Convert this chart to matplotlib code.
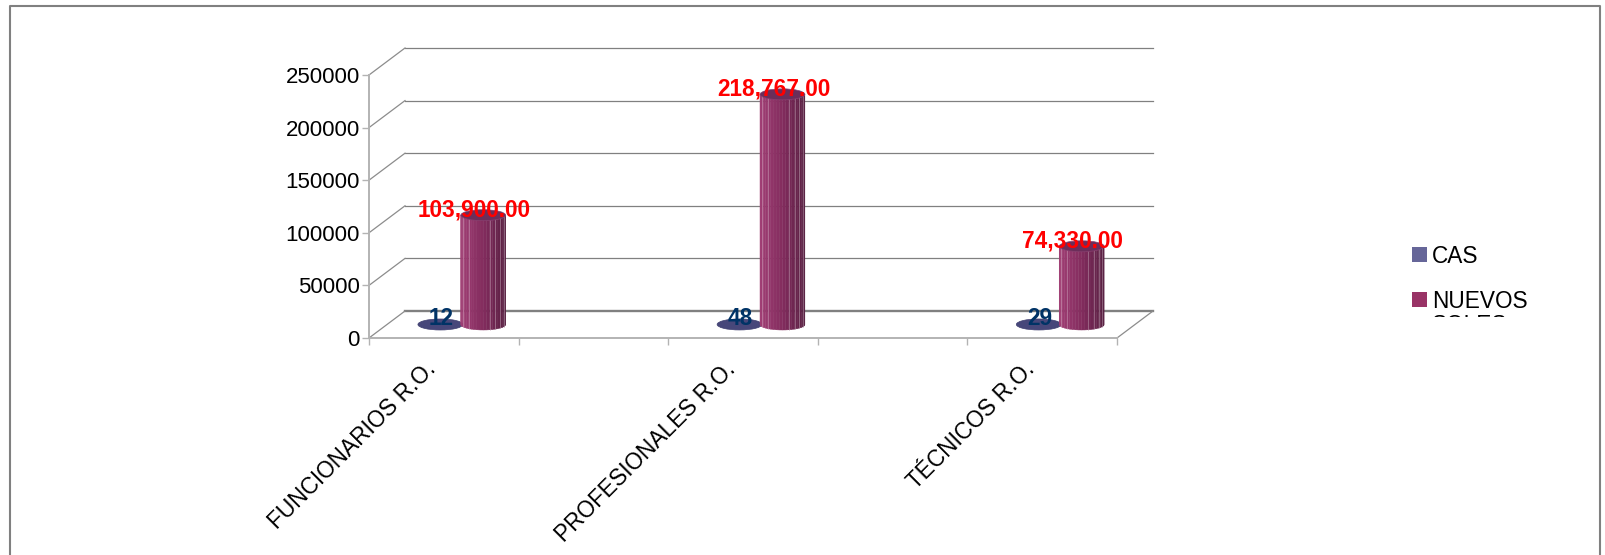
import numpy as np
import matplotlib.pyplot as plt
from matplotlib.lines import Line2D
from matplotlib.patches import Ellipse, Polygon, Rectangle
from matplotlib.transforms import Affine2D, Bbox, ScaledTranslation

plt.rcParams['font.family'] = ['Liberation Sans', 'DejaVu Sans']

# Data (blank categories sit between the named ones)
categories = ['FUNCIONARIOS R.O.', '', 'PROFESIONALES R.O.', '', 'TÉCNICOS R.O.']
bar_slots = [0, 2, 4]
cas_values = [12, 48, 29]
soles_values = [103900.00, 218767.00, 74330.00]
y_ticks = [0, 50000, 100000, 150000, 200000, 250000]
legend_labels = ['CAS', 'NUEVOS\nSOLES']

W, H = 1606, 555
DEPTH_X, DEPTH_Y = 36, 27  # pixel shift of the back wall
BAR_W = 0.30
BAR_SHIFT = 0.1433
RY = 5.5  # ellipse half height, px

fig = plt.figure(figsize=(W / 100, H / 100), dpi=100)
ax = fig.add_axes([369 / W, 1 - 338 / H, 748 / W, 263 / H])
ax.set_xlim(0, len(categories))
ax.set_ylim(0, 250000)
ax.patch.set_visible(False)

back = ax.transData + Affine2D().translate(DEPTH_X, DEPTH_Y)
mid = ax.transData + Affine2D().translate(DEPTH_X / 2, DEPTH_Y / 2)
ry_data = RY * 250000 / 263


def depth_line(x, y):
    # diagonal running from the front plane to the back wall
    p0 = ax.transData.transform((x, y))
    ax.add_line(Line2D([p0[0], p0[0] + DEPTH_X], [p0[1], p0[1] + DEPTH_Y],
                       transform=None, color='#8c8c8c', lw=0.9, zorder=1, clip_on=False))


# Back wall gridlines and floor
for v in y_ticks:
    ax.plot([0, len(categories)], [v, v], transform=back, clip_on=False,
            color='#808080', lw=1.7 if v == 0 else 0.9, zorder=1)
    depth_line(0, v)
depth_line(len(categories), 0)


def stripe_color(t):
    # t goes 0..1 from the left of the cylinder to the right
    stops = np.array([[0xa0, 0x3e, 0x74], [0x80, 0x2b, 0x5c], [0x58, 0x20, 0x42]]) / 255
    if t < 0.5:
        return stops[0] + (stops[1] - stops[0]) * t * 2
    return stops[1] + (stops[2] - stops[1]) * (t - 0.5) * 2


def cylinder(xc, top):
    n = 22
    rx = BAR_W / 2
    edges = -np.cos(np.linspace(0, np.pi, n + 1))
    for i in range(n):
        ts = np.linspace(edges[i], edges[i + 1], 6)
        low = -ry_data * np.sqrt(np.clip(1 - ts ** 2, 0, 1))
        xs = xc + rx * ts
        pts = np.r_[np.c_[xs, low], np.c_[xs[::-1], np.full(6, top)]]
        col = stripe_color((edges[i] + 1) / 2)
        ax.add_patch(Polygon(pts, closed=True, transform=mid, clip_on=False,
                             facecolor=col, edgecolor=col, lw=0.3, zorder=3))
        # pale seams only on some facets, as in the rendered 3D bars
        if i in (3, 6, 13, 15, 17, 19):
            ax.plot([xs[0], xs[0]], [low[0], top], transform=mid, clip_on=False,
                    color=col * 0.45 + 0.55, lw=0.5, alpha=0.7, zorder=3.1)
    ax.add_patch(Ellipse((xc, top), BAR_W, 2 * ry_data, transform=mid, clip_on=False,
                         facecolor='#6b2e5a', edgecolor='#8a4070', lw=0.5, zorder=3.2))


for slot, cas, soles in zip(bar_slots, cas_values, soles_values):
    xc = slot + 0.5
    ax.add_patch(Ellipse((xc - BAR_SHIFT, cas), BAR_W, 2 * ry_data, transform=mid,
                         clip_on=False, facecolor='#47477a', edgecolor='#3f3f70',
                         lw=0.5, zorder=2))
    cylinder(xc + BAR_SHIFT, soles)
    ax.annotate(f'{cas}', (xc - BAR_SHIFT, cas), xycoords=mid, xytext=(1, 6),
                textcoords='offset pixels', ha='center', va='center', fontsize=16.3,
                fontweight='bold', color='#003366', zorder=5)
    ax.annotate(f'{soles:,.2f}', (xc + BAR_SHIFT, soles), xycoords=mid, xytext=(-9, 5),
                textcoords='offset pixels', ha='center', va='center', fontsize=16.3,
                fontweight='bold', color='#ff0000', zorder=5)

# Axes
for side in ['top', 'right']:
    ax.spines[side].set_visible(False)
for side in ['left', 'bottom']:
    ax.spines[side].set_color('#b3b3b3')
    ax.spines[side].set_linewidth(1.4)
ax.set_yticks(y_ticks)
ax.tick_params(axis='y', length=5, width=1, color='#b3b3b3', labelsize=16, pad=1.5)
ax.set_xticks(range(len(categories) + 1))
ax.tick_params(axis='x', which='major', length=5, width=1, color='#b3b3b3', labelbottom=False)
ax.set_xticks(np.arange(len(categories)) + 0.5, categories, minor=True,
              rotation=45, ha='right', va='top', fontsize=16.3)
ax.tick_params(axis='x', which='minor', length=0, pad=14)
for lab in ax.get_xticklabels(minor=True):
    lab.set_transform(lab.get_transform() + ScaledTranslation(-3 / 100, 0, fig.dpi_scale_trans))

# Legend (its box cuts off the second line of the last entry)
legend_colors = ['#666699', '#993366']
legend_tops = [247, 292]
clip = Bbox([[1380, H - 317], [1560, H - 230]])
for lab, col, top in zip(legend_labels, legend_colors, legend_tops):
    fig.add_artist(Rectangle((1412 / W, 1 - (top + 15) / H), 15 / W, 15 / H,
                             transform=fig.transFigure, facecolor=col, edgecolor='none'))
    txt = fig.text(1432 / W, 1 - (top - 2) / H, lab, fontsize=16.3, ha='left', va='top',
                   color='black', linespacing=1.05)
    txt.set_clip_box(clip)
    txt.set_clip_on(True)

# Outer frame, open at the bottom
frame_x = [10 / W, 10 / W, 1600 / W, 1600 / W]
frame_y = [0, 1 - 6 / H, 1 - 6 / H, 0]
fig.add_artist(Line2D(frame_x, frame_y, transform=fig.transFigure, color='#808080', lw=1.5))

fig.savefig('out.png', dpi=100)
